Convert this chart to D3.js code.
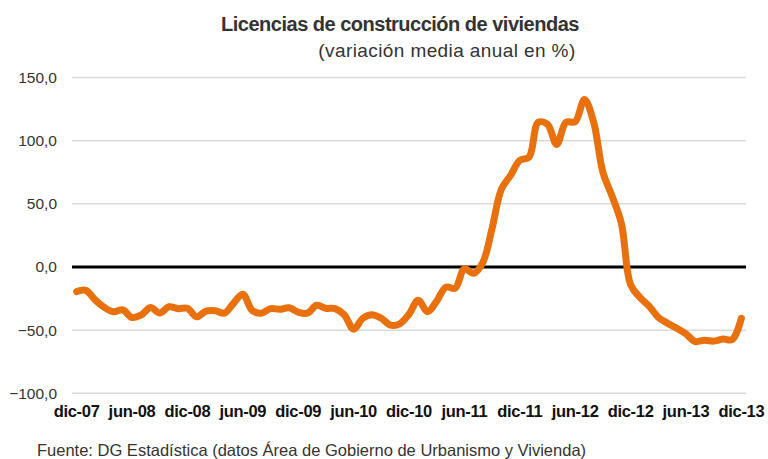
<!DOCTYPE html>
<html>
<head>
<meta charset="utf-8">
<script src="https://cdn.jsdelivr.net/npm/d3@7"></script>
<style>
  body { margin: 0; background: #fff; }
  svg { display: block; }
</style>
</head>
<body>
<svg id="chart" width="768" height="459"></svg>
<script>
// monthly categories dic-07 .. dic-13
var monthNames = ['ene','feb','mar','abr','may','jun','jul','ago','sep','oct','nov','dic'];
var categories = [];
for (var yr = 2007; yr <= 2013; yr++) {
  for (var m = 0; m < 12; m++) {
    if (yr === 2007 && m < 11) continue;
    categories.push(monthNames[m] + '-' + String(yr).slice(2));
  }
}

// variación media anual (%)
var values = [
  -19.5, -18.5, -26, -32, -35.5, -34, -40, -38, -32, -36.5, -31.5, -33,
  -32.7, -39.4, -35, -34.6, -36.6, -28.7, -21.6, -34.2, -36.6, -33, -33.5, -32.3,
  -35.8, -36.6, -30.3, -32.7, -33, -38, -49.3, -40.6, -37.8, -40.6, -46, -45,
  -37.4, -26.3, -35.4, -27, -16, -16.8, -1.4, -5, 3.7, 30.6, 61.5, 72.5,
  84.4, 87, 114.5, 113, 97, 114.5, 115, 132.6, 114.5, 75, 56, 34.6,
  -14, -24, -31, -39.8, -44.5, -48.5, -53, -59, -58, -58.7, -57, -57.5,
  -40.6
];

var yTicks = [-100, -50, 0, 50, 100, 150];
var xTickLabels = ['dic-07','jun-08','dic-08','jun-09','dic-09','jun-10','dic-10','jun-11','dic-11','jun-12','dic-12','jun-13','dic-13'];

var svg = d3.select('#chart');
var plotLeft = 72, plotRight = 746, plotTop = 77.5, plotBottom = 393.3;

var x = d3.scalePoint().domain(categories).range([plotLeft, plotRight]).padding(0.5);
var yScale = d3.scaleLinear().domain([-100, 150]).range([plotBottom, plotTop]);
var fmt = function(v) { return d3.format('.1f')(v).replace('.', ','); };

// title
svg.append('text')
  .attr('x', 400).attr('y', 31)
  .attr('text-anchor', 'middle')
  .style('font-family', 'Liberation Sans, Arial, sans-serif')
  .style('font-weight', 'bold').style('font-size', '20px')
  .style('letter-spacing', '-0.5px')
  .style('fill', '#333')
  .text('Licencias de construcción de viviendas');
svg.append('text')
  .attr('x', 447).attr('y', 57)
  .attr('text-anchor', 'middle')
  .style('font-family', 'Liberation Sans, Arial, sans-serif')
  .style('font-size', '19px')
  .style('letter-spacing', '0.4px')
  .style('fill', '#333')
  .text('(variación media anual en %)');

// grid
svg.append('g').selectAll('line').data(yTicks.filter(function(d) { return d !== 0; }))
  .enter().append('line')
  .attr('x1', plotLeft).attr('x2', plotRight)
  .attr('y1', function(d) { return yScale(d); })
  .attr('y2', function(d) { return yScale(d); })
  .attr('stroke', '#d9d9d9').attr('stroke-width', 1.5);

// y labels
svg.append('g').selectAll('text').data(yTicks)
  .enter().append('text')
  .attr('x', 57)
  .attr('y', function(d) { return yScale(d); })
  .attr('dy', '0.35em')
  .attr('text-anchor', 'end')
  .style('font-family', 'Liberation Sans, Arial, sans-serif')
  .style('font-size', '15.5px')
  .style('fill', '#333')
  .text(fmt);

// zero line
svg.append('line')
  .attr('x1', plotLeft).attr('x2', plotRight)
  .attr('y1', yScale(0)).attr('y2', yScale(0))
  .attr('stroke', '#000').attr('stroke-width', 3);

// series
var line = d3.line()
  .x(function(d, i) { return x(categories[i]); })
  .y(function(d) { return yScale(d); })
  .curve(d3.curveCatmullRom);
svg.append('path').datum(values)
  .attr('d', line)
  .attr('fill', 'none')
  .attr('stroke', '#e8710e')
  .attr('stroke-width', 7)
  .attr('stroke-linecap', 'round')
  .attr('stroke-linejoin', 'round');

// x labels
svg.append('g').selectAll('text').data(xTickLabels)
  .enter().append('text')
  .attr('x', function(d) { return x(d); })
  .attr('y', 417)
  .attr('text-anchor', 'middle')
  .style('font-family', 'Liberation Sans Narrow, Arial Narrow, sans-serif')
  .style('font-weight', 'bold').style('font-size', '16.5px')
  .style('letter-spacing', '-0.3px')
  .style('fill', '#111')
  .text(function(d) { return d; });

// source
svg.append('text')
  .attr('x', 37).attr('y', 456)
  .style('font-family', 'Liberation Sans Narrow, Arial Narrow, sans-serif')
  .style('font-size', '16.5px')
  .style('fill', '#333')
  .text('Fuente: DG Estadística  (datos Área de Gobierno de Urbanismo y Vivienda)');
</script>
</body>
</html>
